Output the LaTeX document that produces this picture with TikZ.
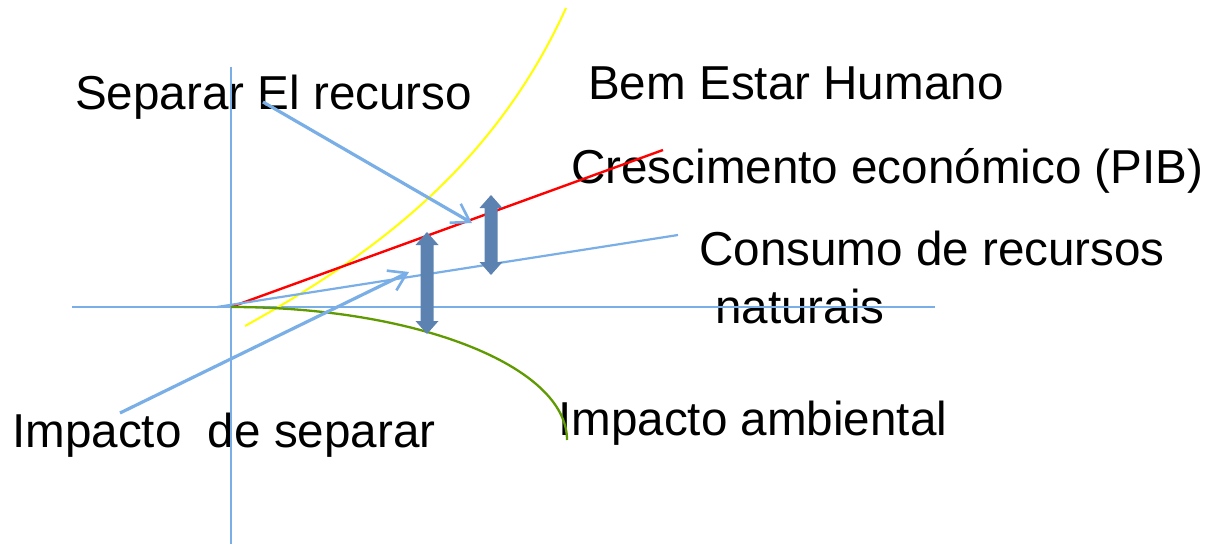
\documentclass[tikz,border=0pt]{standalone}
\usepackage{fontspec}
\setmainfont{Liberation Sans}
\usetikzlibrary{arrows.meta}
\definecolor{lblue}{HTML}{7AAEE6}
\definecolor{sblue}{HTML}{5B82B1}
\definecolor{olive}{HTML}{5E9A00}
\definecolor{yel}{HTML}{FFFF00}
\tikzset{
  lbl/.style={anchor=base west, inner sep=0pt, font=\fontsize{47.6}{57}\selectfont},
  axis/.style={draw=lblue, line width=2.2pt},
  ptr/.style={draw=lblue, line width=3.2pt, -{Straight Barb[length=17pt, width=22pt, line width=2.6pt]}},
  dbl/.style={fill=sblue, draw=none}
}
\begin{document}
\begin{tikzpicture}[x=1pt, y=-1pt]
\useasboundingbox (0,0) rectangle (1208,544);
% labels
\node[lbl] (sep) at (75,109) {Separar El recurso};
\node[lbl] (bem) at (588,99) {Bem Estar Humano};
\node[lbl] (cre) at (571,183) {Crescimento económico (PIB)};
\node[lbl] (con) at (699,265) {Consumo de recursos};
\node[lbl] (nat) at (715,323) {naturais};
\node[lbl] (imp) at (12,447) {Impacto\ \ de separar};
\node[lbl] (amb) at (558,435) {Impacto ambiental};
% axes
\coordinate (ytop) at (231,67);
\coordinate (ybot) at (231,544);
\coordinate (xl) at (72,307);
\coordinate (xr) at (935,307);
\coordinate (o) at (231,307);
\draw[axis] (ytop) -- (ybot);
\draw[axis] (xl) -- (xr);
% curves
\coordinate (ys) at (245,326);
\coordinate (ye) at (566,8);
\draw[yel, line width=2pt] (ys) .. controls (360,262) and (490,175) .. (ye);
\coordinate (re) at (663,150);
\draw[red, line width=2.4pt] (o) -- (re);
\coordinate (cs) at (217,307);
\coordinate (ce) at (678,235);
\draw[lblue, line width=2.2pt] (cs) -- (ce);
\coordinate (ge) at (567,440);
\draw[olive, line width=2.3pt] (o) .. controls (416,307) and (567,366) .. (ge);
% label pointers
\coordinate (sa) at (263,102);
\coordinate (sb) at (472,223);
\draw[ptr] (sa) -- (sb);
\coordinate (ia) at (120,413);
\coordinate (ib) at (409,272);
\draw[ptr] (ia) -- (ib);
% double arrows
\fill[dbl] (427,232) -- (438.5,245) -- (433.5,245) -- (433.5,321) -- (438.5,321) -- (427,334) -- (415.5,321) -- (420.5,321) -- (420.5,245) -- (415.5,245) -- cycle;
\fill[dbl] (491,195) -- (502.5,208) -- (497.5,208) -- (497.5,262) -- (502.5,262) -- (491,275) -- (479.5,262) -- (484.5,262) -- (484.5,208) -- (479.5,208) -- cycle;
\end{tikzpicture}
\end{document}
